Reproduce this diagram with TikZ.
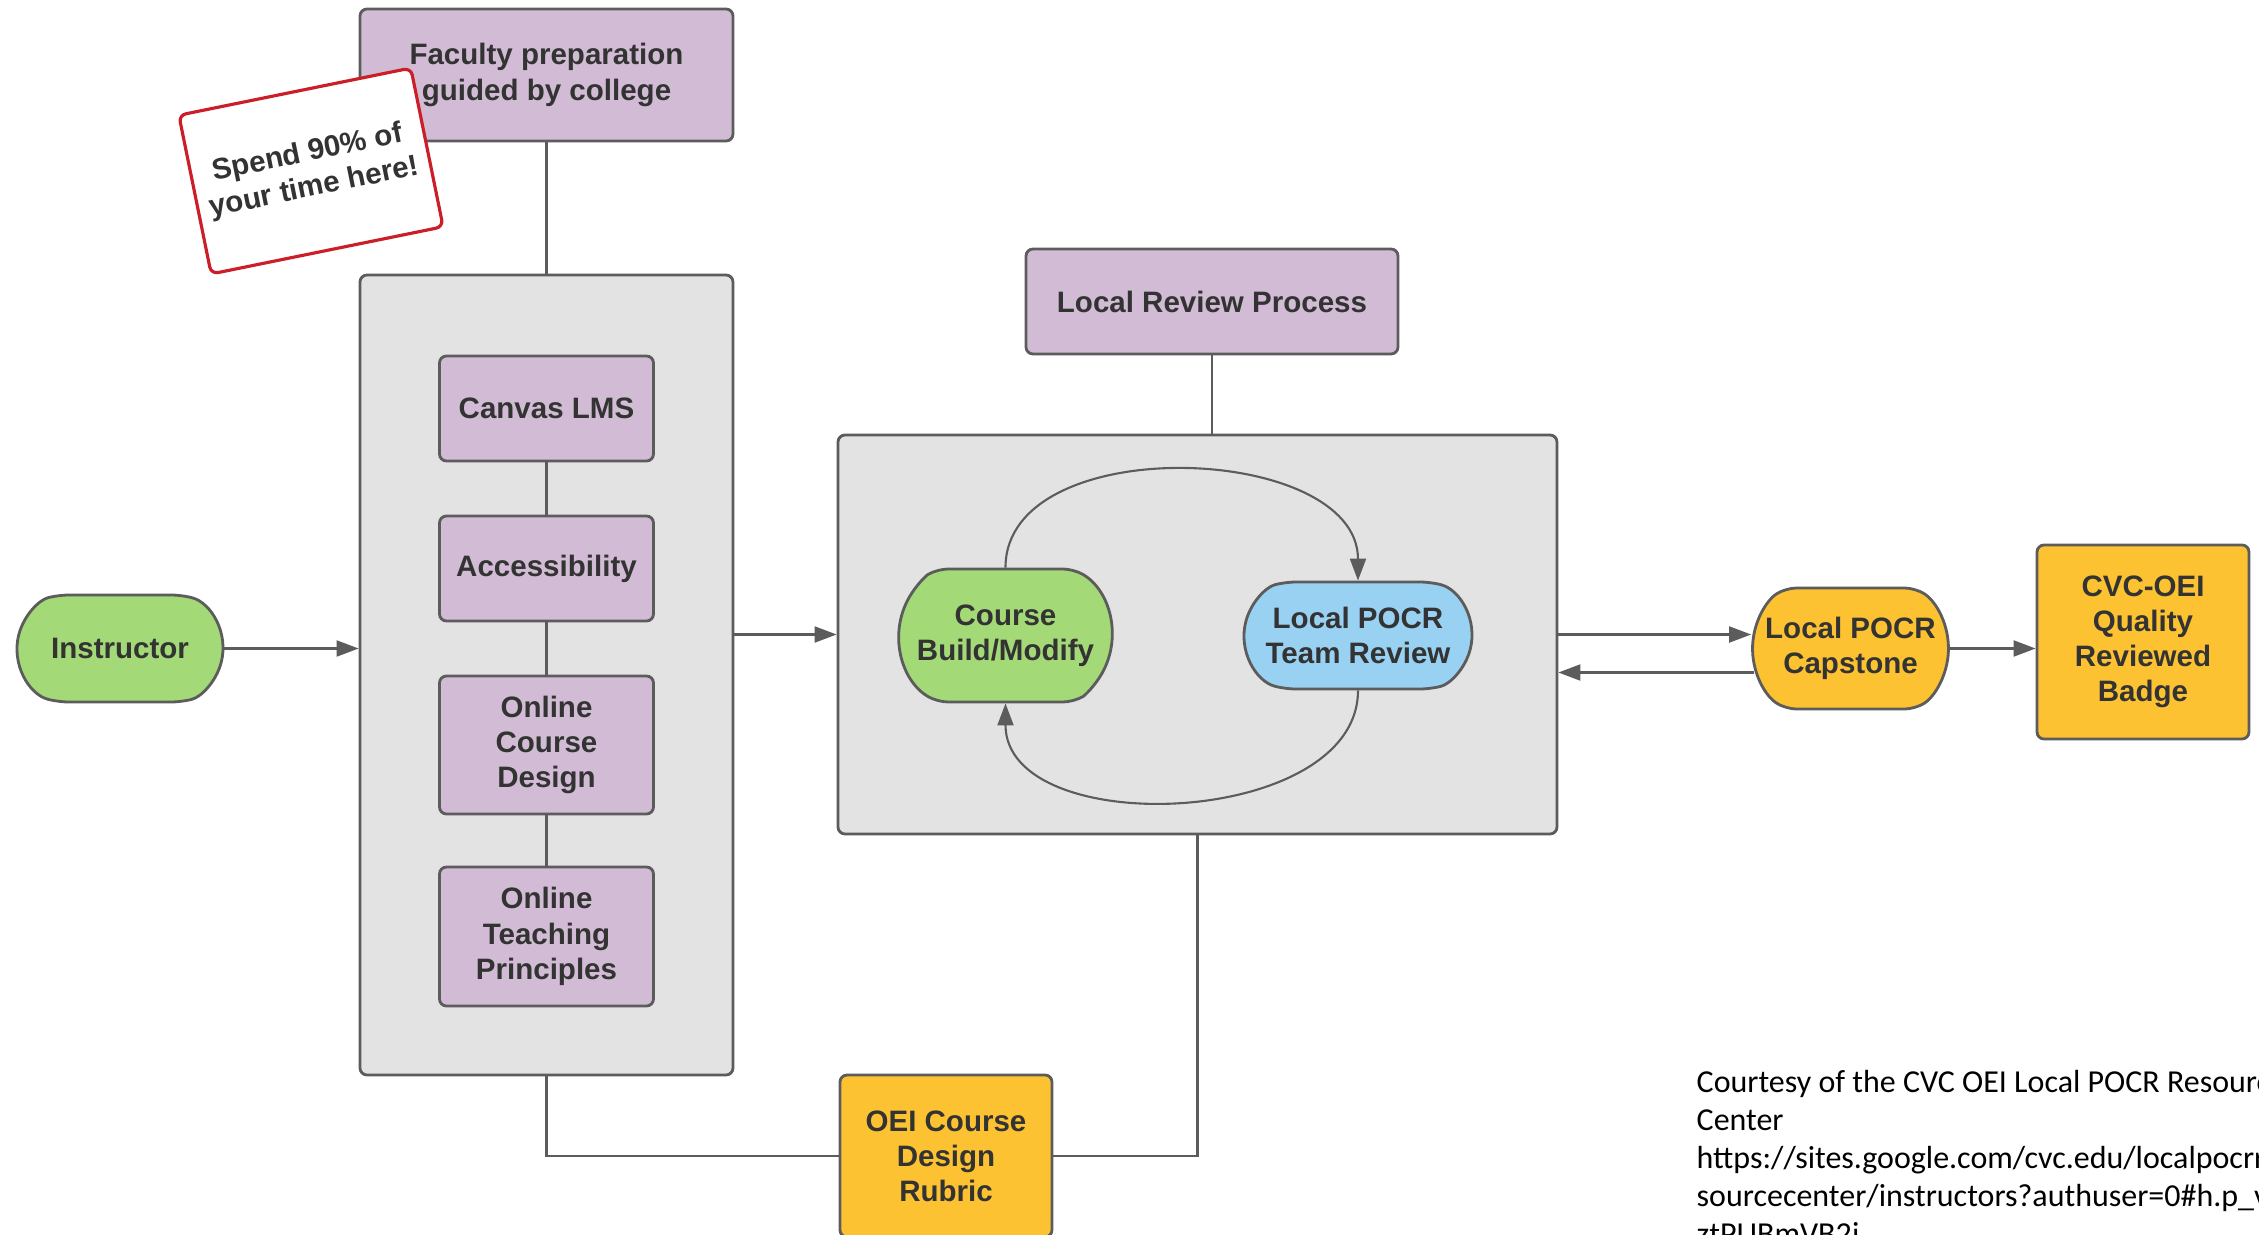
\documentclass[tikz,border=0pt]{standalone}
\usepackage{fontspec}
\setmainfont{Liberation Sans}
\newfontfamily\creditfont{Carlito}
\usetikzlibrary{arrows.meta, shapes.misc}

\definecolor{lilac}{RGB}{210,188,213}
\definecolor{panel}{RGB}{227,227,227}
\definecolor{rim}{RGB}{92,92,92}
\definecolor{leaf}{RGB}{163,217,119}
\definecolor{sky}{RGB}{153,209,242}
\definecolor{amber}{RGB}{252,194,50}
\definecolor{notered}{RGB}{204,30,40}
\definecolor{ink}{RGB}{51,51,51}

\tikzset{
	card/.style={draw=rim, line width=0.8pt, rounded corners=2pt, align=center, text=ink, inner sep=2pt},
	lilacbox/.style={card, fill=lilac},
	panelbox/.style={card, fill=panel},
	pill/.style={draw=rim, line width=0.8pt, rounded rectangle, rounded corners=3pt, align=center, text=ink, inner sep=2pt},
	link/.style={draw=rim, line width=0.6pt},
}

\begin{document}
\begin{tikzpicture}[font=\bfseries\fontsize{8.4}{10}\selectfont, >={Triangle[length=2.2mm, width=1.6mm]}, line join=miter]
	\useasboundingbox (0, 0) rectangle (22.59, -12.35);
	\clip (0, 0) rectangle (22.59, -12.35);
	
	% Faculty preparation column
	\node[lilacbox, minimum width=3.73cm, minimum height=1.32cm] (faculty) at (5.465, -0.75) {Faculty preparation\\guided by college};
	\node[panelbox, minimum width=3.73cm, minimum height=8cm] (prep) at (5.465, -6.75) {};
	\node[lilacbox, minimum width=2.14cm, minimum height=1.05cm] (canvas) at (5.465, -4.085) {Canvas LMS};
	\node[lilacbox, minimum width=2.14cm, minimum height=1.05cm] (access) at (5.465, -5.685) {Accessibility};
	\node[lilacbox, minimum width=2.14cm, minimum height=1.38cm] (design) at (5.465, -7.45) {Online\\Course\\Design};
	\node[lilacbox, minimum width=2.14cm, minimum height=1.39cm] (teaching) at (5.465, -9.365) {Online\\Teaching\\Principles};
	\node[draw=notered, line width=0.9pt, fill=white, rounded corners=2pt, rotate=11.5, minimum width=2.12cm, minimum height=1.62cm, align=center, text=ink] (note) at (3.11, -1.71) {Spend 90\% of\\your time here!};
	
	% Instructor
	\node[pill, fill=leaf, rounded rectangle arc length=150, minimum width=2.2cm, minimum height=1.07cm] (instructor) at (1.20, -6.485) {Instructor};
	
	% Review loop
	\node[lilacbox, minimum width=3.72cm, minimum height=1.05cm] (review) at (12.12, -3.015) {Local Review Process};
	\node[panelbox, minimum width=7.19cm, minimum height=3.99cm] (loop) at (11.975, -6.345) {};
	\node[pill, fill=leaf, rounded rectangle arc length=120, minimum width=2.27cm, minimum height=1.33cm] (build) at (10.055, -6.355) {Course\\Build/Modify};
	\node[pill, fill=sky, rounded rectangle arc length=150, minimum width=2.42cm, minimum height=1.07cm] (team) at (13.58, -6.355) {Local POCR\\Team Review};
	
	% Capstone and badge
	\node[pill, fill=amber, rounded rectangle arc length=115, minimum width=2.1cm, minimum height=1.21cm] (capstone) at (18.505, -6.485) {Local POCR\\Capstone};
	\node[card, fill=amber, minimum width=2.12cm, minimum height=1.94cm] (badge) at (21.43, -6.42) {CVC-OEI\\Quality\\Reviewed\\Badge};
	
	% Rubric
	\node[card, fill=amber, minimum width=2.12cm, minimum height=1.62cm] (rubric) at (9.46, -11.56) {OEI Course\\Design\\Rubric};
	
	\node[anchor=north west, inner sep=0pt, align=left, text=black, font=\creditfont\fontsize{9.1}{10.8}\selectfont] (credit) at (16.96, -10.70) {Courtesy of the CVC OEI Local POCR Resource\\Center\\https://sites.google.com/cvc.edu/localpocrre\\sourcecenter/instructors?authuser=0\#h.p\_v\\ztPUBmVB2j};
	
	% connectors
	\draw[link] (faculty.south) -- (prep.north);
	\draw[link] (canvas.south) -- (access.north);
	\draw[link] (access.south) -- (design.north);
	\draw[link] (design.south) -- (teaching.north);
	\draw[link, ->] (instructor.east) -- (instructor.east -| prep.west);
	\draw[link, ->] (prep.east |- loop.west) -- (loop.west);
	\draw[link] (review.south) -- (review.south |- loop.north);
	\draw[link, ->] (build.north) to[out=90, in=90] (team.north);
	\draw[link, ->] (team.south) to[out=-90, in=-90] (build.south);
	\draw[link, ->] (loop.east) -- (loop.east -| capstone.west);
	\coordinate (back) at ([xshift=0.03cm, yshift=-0.24cm]capstone.west);
	\draw[link, ->] (back) -- (back -| loop.east);
	\draw[link, ->] (capstone.east) -- (capstone.east -| badge.west);
	\draw[link] (prep.south) |- (rubric.west);
	\draw[link] (loop.south) |- (rubric.east);
\end{tikzpicture}
\end{document}
